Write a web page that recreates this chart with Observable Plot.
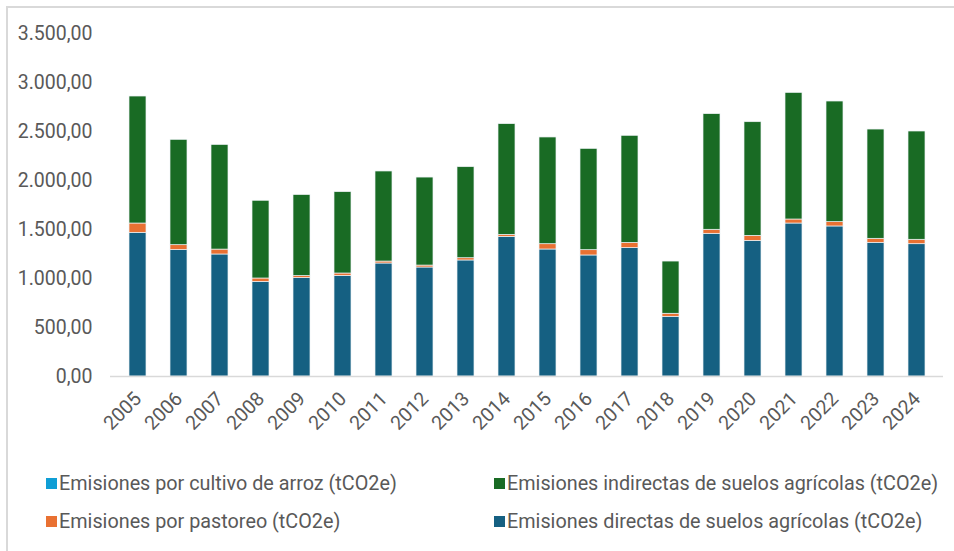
<!DOCTYPE html>
<html>
<head>
<meta charset="utf-8">
<script src="https://cdn.jsdelivr.net/npm/d3@7"></script>
<script src="https://cdn.jsdelivr.net/npm/@observablehq/plot@0.6"></script>
<style>
  html, body { margin: 0; padding: 0; background: #fff; }
  #wrap { position: relative; width: 954px; height: 551px; overflow: hidden; font-family: Roboto, sans-serif; }
  #frame { position: absolute; left: 6px; top: 6px; width: 960px; height: 560px; border: 2px solid #d9d9d9; box-sizing: border-box; }
  #chart { position: absolute; left: 0; top: 0; }
  .leg { position: absolute; display: flex; align-items: center; font-size: 19.8px; color: #595959; white-space: nowrap; }
  .sw { width: 11px; height: 11px; margin-right: 2px; }
</style>
</head>
<body>
<div id="wrap">
  <div id="frame"></div>
  <div id="chart"></div>
  <div id="legend"></div>
</div>
<script>
const years = ["2005","2006","2007","2008","2009","2010","2011","2012","2013","2014","2015","2016","2017","2018","2019","2020","2021","2022","2023","2024"];
const directas   = [1466,1290,1245,965,1005,1027,1153,1112,1184,1425,1296,1235,1310,609,1456,1384,1561,1531,1364,1350];
const pastoreo   = [95,50,50,35,20,24,20,20,23,20,54,54,53,31,41,51,41,44,41,45];
const arroz      = [0,0,0,0,0,0,0,0,0,0,0,0,0,0,0,0,0,0,0,0];
const indirectas = [1296,1075,1068,793,827,830,919,898,929,1130,1089,1034,1093,533,1180,1160,1292,1231,1115,1105];

const seriesNames = [
  "Emisiones directas de suelos agrícolas (tCO2e)",
  "Emisiones por pastoreo (tCO2e)",
  "Emisiones por cultivo de arroz (tCO2e)",
  "Emisiones indirectas de suelos agrícolas (tCO2e)"
];
const seriesColors = ["#156082", "#E97132", "#0F9ED5", "#196B24"];
const seriesValues = [directas, pastoreo, arroz, indirectas];
const yTicks = [0, 500, 1000, 1500, 2000, 2500, 3000, 3500];

const rows = [];
years.forEach((yr, i) => {
  seriesNames.forEach((s, k) => rows.push({year: yr, series: s, value: seriesValues[k][i]}));
});

const es = d3.formatLocale({decimal: ",", thousands: ".", grouping: [3], currency: ["", " €"]});
const fmt = es.format(",.2f");

const plot = Plot.plot({
  width: 954,
  height: 450,
  marginLeft: 110,
  marginRight: 11,
  marginTop: 33,
  marginBottom: 74,
  style: {fontFamily: "Roboto, sans-serif", fontSize: "19.5px", color: "#595959", background: "transparent"},
  x: {domain: years, paddingInner: 0.59, paddingOuter: 0.295, label: null},
  y: {domain: [0, 3500], label: null},
  color: {domain: seriesNames, range: seriesColors},
  marks: [
    Plot.barY(rows, {x: "year", y: "value", z: "series", fill: "series", order: seriesNames, stroke: "#eef2f5", strokeWidth: 0.7}),
    Plot.ruleY([0], {stroke: "#d9d9d9", strokeWidth: 1.5}),
    Plot.axisY({ticks: yTicks, tickFormat: fmt, tickSize: 0, tickPadding: 18, label: null}),
    Plot.axisX({tickRotate: -45, tickSize: 0, tickPadding: 19, label: null})
  ]
});
document.getElementById("chart").appendChild(plot);

const legendItems = [
  {name: seriesNames[2], color: seriesColors[2], x: 46, y: 483},
  {name: seriesNames[3], color: seriesColors[3], x: 494, y: 483},
  {name: seriesNames[1], color: seriesColors[1], x: 46, y: 521},
  {name: seriesNames[0], color: seriesColors[0], x: 494, y: 521}
];
const leg = document.getElementById("legend");
legendItems.forEach(it => {
  const d = document.createElement("div");
  d.className = "leg";
  d.style.left = it.x + "px";
  d.style.top = (it.y - 12) + "px";
  d.style.height = "24px";
  const sw = document.createElement("span");
  sw.className = "sw";
  sw.style.background = it.color;
  const t = document.createElement("span");
  t.textContent = it.name;
  d.appendChild(sw);
  d.appendChild(t);
  leg.appendChild(d);
});
</script>
</body>
</html>
